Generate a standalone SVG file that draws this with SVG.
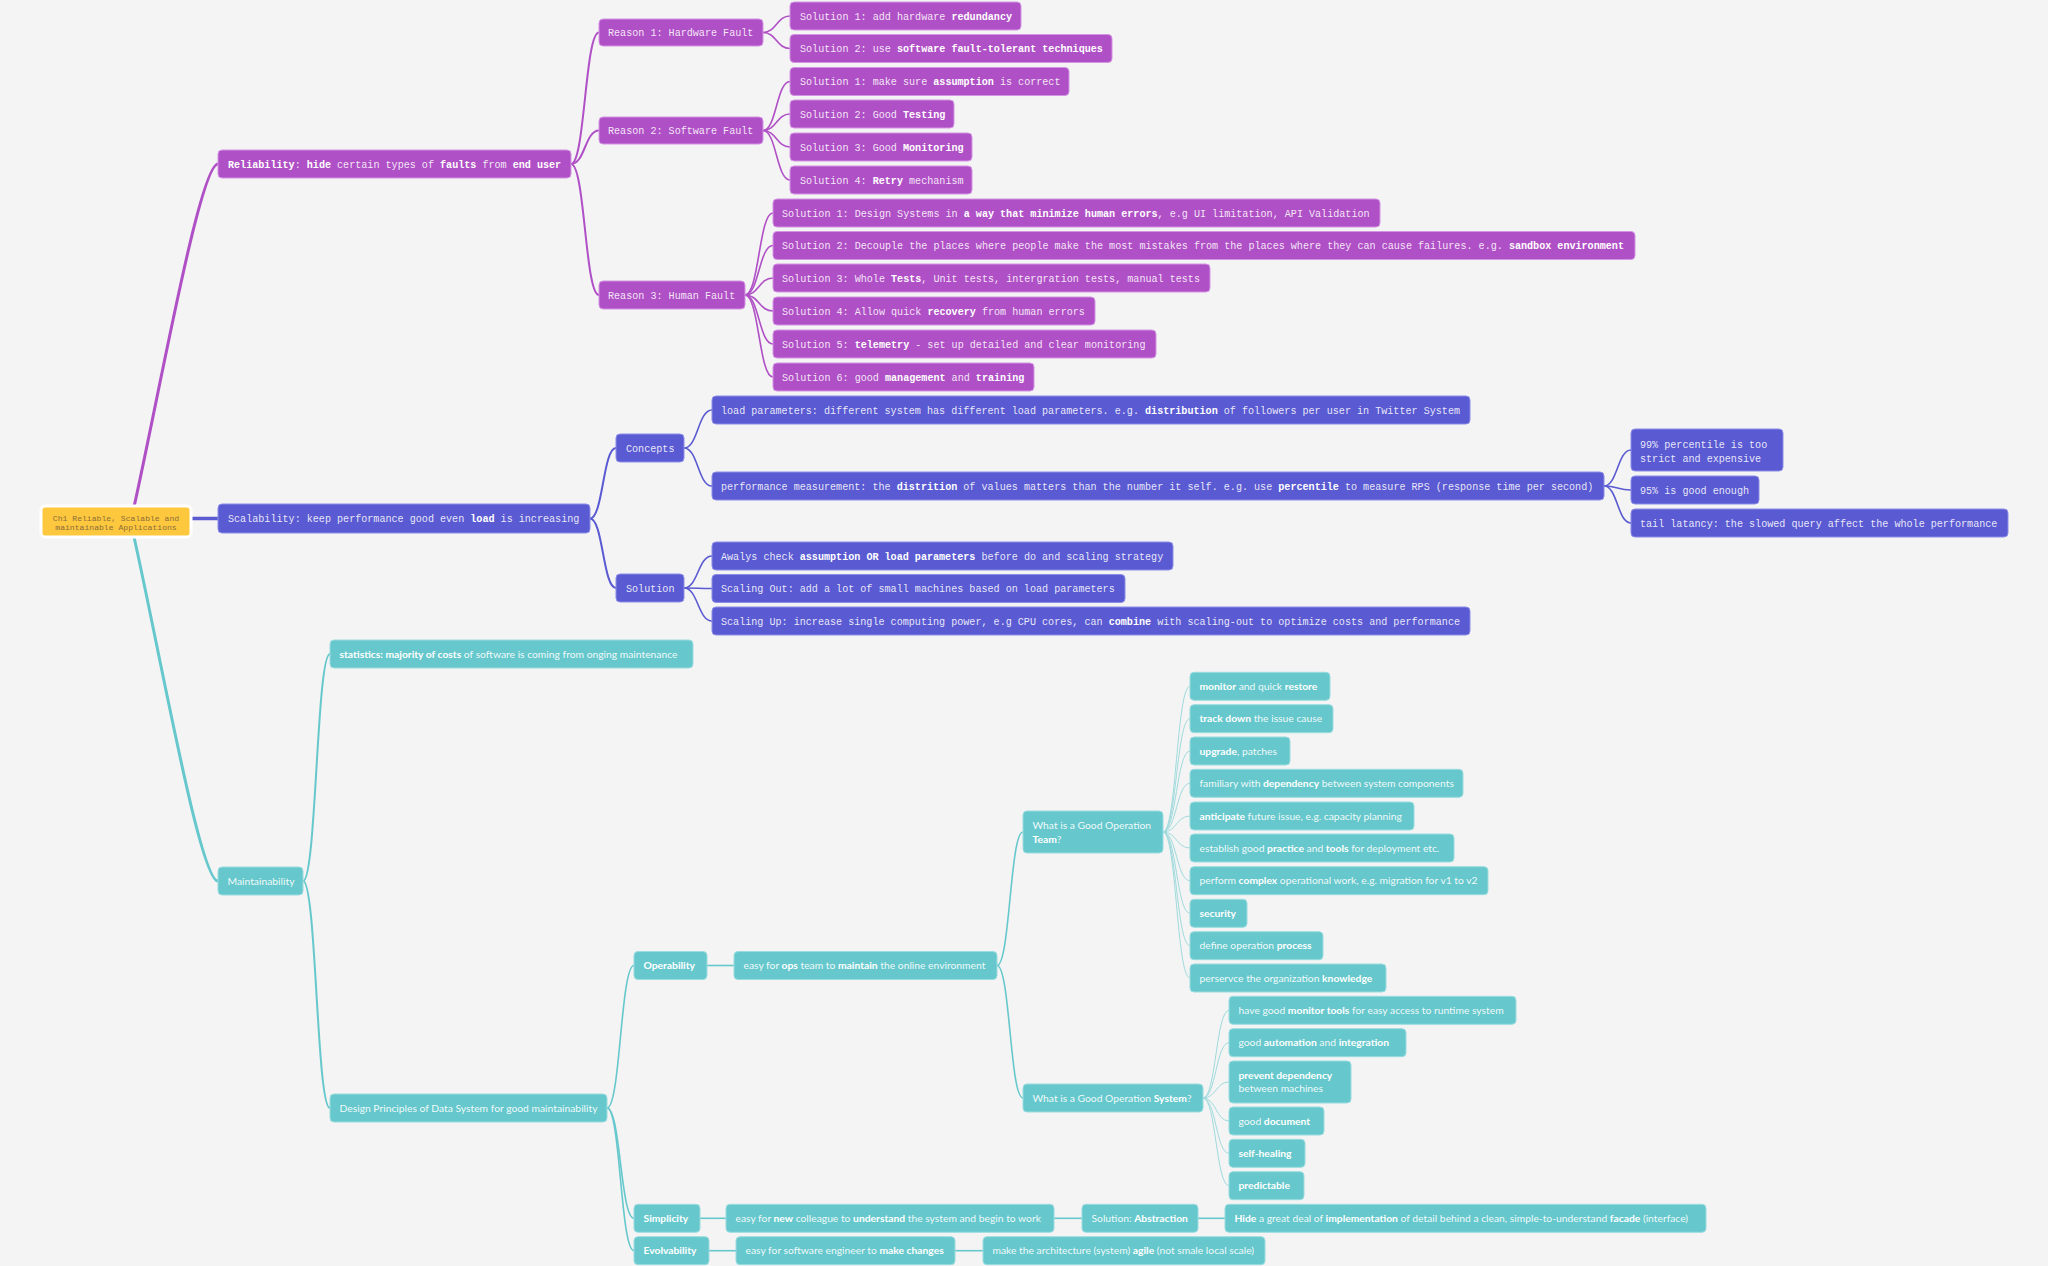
<svg xmlns="http://www.w3.org/2000/svg" width="2048" height="1266" viewBox="0 0 2048 1266">
<style>
.p{fill:#b050c6;stroke:#d394e3;stroke-width:1}
.b{fill:#5a5ad2;stroke:#8d8de8;stroke-width:1}
.t{fill:#66c8cc;stroke:#9adcdf;stroke-width:1}
.m{font-family:"Liberation Mono","DejaVu Sans Mono",monospace;font-size:10.1px;fill:#fff;fill-opacity:.88}
.s{font-family:Lato,"Open Sans",sans-serif;font-size:10.3px;fill:#fff;fill-opacity:.92}
.bd{font-weight:bold;fill-opacity:1}
.lp{fill:none;stroke:#b050c6}
.lb{fill:none;stroke:#5a5ad2}
.lt{fill:none;stroke:#66c8cc}
.lt2{fill:none;stroke:#9fdadd;stroke-width:1}
</style>
<rect width="2048" height="1266" fill="#f4f4f4"/>
<g id="connectors">
<path class="lp" stroke-width="3" d="M134 507 C160 390 200 164 218 164"/>
<path class="lt" stroke-width="3" d="M134 537 C160 653 200 881 218 881"/>
<path class="lb" stroke-width="3.5" d="M191 518.5 L218 518.5"/>
<g class="lp" stroke-width="2">
<path d="M571 164 C585 164 585 32.5 599 32.5"/>
<path d="M571 164 C585 164 585 130.5 599 130.5"/>
<path d="M571 164 C585 164 585 295 599 295"/>
</g>
<g class="lp" stroke-width="1.6">
<path d="M763 32.5 C776.5 32.5 776.5 16 790 16"/>
<path d="M763 32.5 C776.5 32.5 776.5 48.5 790 48.5"/>
<path d="M763 130.5 C776.5 130.5 776.5 81.5 790 81.5"/>
<path d="M763 130.5 C776.5 130.5 776.5 114 790 114"/>
<path d="M763 130.5 C776.5 130.5 776.5 147 790 147"/>
<path d="M763 130.5 C776.5 130.5 776.5 180 790 180"/>
<path d="M745 295 C759 295 759 213 773 213"/>
<path d="M745 295 C759 295 759 245.5 773 245.5"/>
<path d="M745 295 C759 295 759 278 773 278"/>
<path d="M745 295 C759 295 759 311 773 311"/>
<path d="M745 295 C759 295 759 344 773 344"/>
<path d="M745 295 C759 295 759 377 773 377"/>
</g>
<g class="lb" stroke-width="2">
<path d="M590 518.5 C603 518.5 603 448 616 448"/>
<path d="M590 518.5 C603 518.5 603 588 616 588"/>
</g>
<g class="lb" stroke-width="1.6">
<path d="M684 448 C698 448 698 410 712 410"/>
<path d="M684 448 C698 448 698 486 712 486"/>
<path d="M684 588 C698 588 698 556 712 556"/>
<path d="M684 588 C698 588 698 588.5 712 588.5"/>
<path d="M684 588 C698 588 698 621 712 621"/>
<path d="M1604 486 C1617.5 486 1617.5 450 1631 450"/>
<path d="M1604 486 C1617.5 486 1617.5 490 1631 490"/>
<path d="M1604 486 C1617.5 486 1617.5 523 1631 523"/>
</g>
<g class="lt" stroke-width="2">
<path d="M303 881 C316.5 881 316.5 654 330 654"/>
<path d="M303 881 C316.5 881 316.5 1108 330 1108"/>
</g>
<g class="lt" stroke-width="1.6">
<path d="M607 1108 C620.5 1108 620.5 965.5 634 965.5"/>
<path d="M607 1108 C620.5 1108 620.5 1218.3 634 1218.3"/>
<path d="M607 1108 C620.5 1108 620.5 1250.7 634 1250.7"/>
<path d="M707 965.5 L734 965.5"/>
<path d="M997 965.5 C1010 965.5 1010 832 1023 832"/>
<path d="M997 965.5 C1010 965.5 1010 1098 1023 1098"/>
<path d="M700 1218.3 L726 1218.3"/>
<path d="M1054 1218.3 L1082 1218.3"/>
<path d="M1198 1218.3 L1225 1218.3"/>
<path d="M709 1250.7 L736 1250.7"/>
<path d="M955 1250.7 L983 1250.7"/>
</g>
<g class="lt2">
<path d="M1163 832 C1176.5 832 1176.5 686.3 1190 686.3"/>
<path d="M1163 832 C1176.5 832 1176.5 718.7 1190 718.7"/>
<path d="M1163 832 C1176.5 832 1176.5 751 1190 751"/>
<path d="M1163 832 C1176.5 832 1176.5 783.3 1190 783.3"/>
<path d="M1163 832 C1176.5 832 1176.5 816 1190 816"/>
<path d="M1163 832 C1176.5 832 1176.5 848 1190 848"/>
<path d="M1163 832 C1176.5 832 1176.5 880.7 1190 880.7"/>
<path d="M1163 832 C1176.5 832 1176.5 913.3 1190 913.3"/>
<path d="M1163 832 C1176.5 832 1176.5 945.7 1190 945.7"/>
<path d="M1163 832 C1176.5 832 1176.5 978 1190 978"/>
<path d="M1203 1098 C1216 1098 1216 1010.3 1229 1010.3"/>
<path d="M1203 1098 C1216 1098 1216 1042.7 1229 1042.7"/>
<path d="M1203 1098 C1216 1098 1216 1082 1229 1082"/>
<path d="M1203 1098 C1216 1098 1216 1121 1229 1121"/>
<path d="M1203 1098 C1216 1098 1216 1153.3 1229 1153.3"/>
<path d="M1203 1098 C1216 1098 1216 1185.7 1229 1185.7"/>
</g>
</g>

<g id="root">
<rect x="41" y="506" width="150" height="31" rx="4" fill="#fec83e" stroke="#ffffff" stroke-width="3"/>
<text font-family="Liberation Mono,DejaVu Sans Mono,monospace" font-size="8.1" fill="#8a6d3a" text-anchor="middle"><tspan x="116" y="520.5">Ch1 Reliable, Scalable and</tspan><tspan x="116" y="530">maintainable Applications</tspan></text>
</g>

<g id="reliability"><rect class="p" x="218" y="150" width="353" height="28" rx="4"/><text class="m" x="228" y="167.5"><tspan class="bd">Reliability</tspan>: <tspan class="bd">hide</tspan> certain types of <tspan class="bd">faults</tspan> from <tspan class="bd">end user</tspan></text></g>
<g id="reason1"><rect class="p" x="599" y="19" width="164" height="27" rx="4"/><text class="m" x="608" y="36">Reason 1: Hardware Fault</text></g>
<g id="reason2"><rect class="p" x="599" y="117" width="164" height="27" rx="4"/><text class="m" x="608" y="134">Reason 2: Software Fault</text></g>
<g id="reason3"><rect class="p" x="599" y="281" width="146" height="28" rx="4"/><text class="m" x="608" y="298.5">Reason 3: Human Fault</text></g>
<g id="hw1"><rect class="p" x="790" y="2" width="231" height="28" rx="4"/><text class="m" x="800" y="19.5">Solution 1: add hardware <tspan class="bd">redundancy</tspan></text></g>
<g id="hw2"><rect class="p" x="790" y="34.5" width="322" height="28" rx="4"/><text class="m" x="800" y="52">Solution 2: use <tspan class="bd">software fault-tolerant techniques</tspan></text></g>
<g id="sw1"><rect class="p" x="790" y="67.5" width="279" height="28" rx="4"/><text class="m" x="800" y="85">Solution 1: make sure <tspan class="bd">assumption</tspan> is correct</text></g>
<g id="sw2"><rect class="p" x="790" y="100" width="164" height="28" rx="4"/><text class="m" x="800" y="117.5">Solution 2: Good <tspan class="bd">Testing</tspan></text></g>
<g id="sw3"><rect class="p" x="790" y="133" width="182" height="28" rx="4"/><text class="m" x="800" y="150.5">Solution 3: Good <tspan class="bd">Monitoring</tspan></text></g>
<g id="sw4"><rect class="p" x="790" y="166" width="182" height="28" rx="4"/><text class="m" x="800" y="183.5">Solution 4: <tspan class="bd">Retry</tspan> mechanism</text></g>
<g id="hf1"><rect class="p" x="773" y="199" width="607" height="28" rx="4"/><text class="m" x="782" y="216.5">Solution 1: Design Systems in <tspan class="bd">a way that minimize human errors</tspan>, e.g UI limitation, API Validation</text></g>
<g id="hf2"><rect class="p" x="773" y="231.5" width="862" height="28" rx="4"/><text class="m" x="782" y="249">Solution 2: Decouple the places where people make the most mistakes from the places where they can cause failures. e.g. <tspan class="bd">sandbox environment</tspan></text></g>
<g id="hf3"><rect class="p" x="773" y="264" width="437" height="28" rx="4"/><text class="m" x="782" y="281.5">Solution 3: Whole <tspan class="bd">Tests</tspan>, Unit tests, intergration tests, manual tests</text></g>
<g id="hf4"><rect class="p" x="773" y="297" width="322" height="28" rx="4"/><text class="m" x="782" y="314.5">Solution 4: Allow quick <tspan class="bd">recovery</tspan> from human errors</text></g>
<g id="hf5"><rect class="p" x="773" y="330" width="383" height="28" rx="4"/><text class="m" x="782" y="347.5">Solution 5: <tspan class="bd">telemetry</tspan> - set up detailed and clear monitoring</text></g>
<g id="hf6"><rect class="p" x="773" y="363" width="261" height="28" rx="4"/><text class="m" x="782" y="380.5">Solution 6: good <tspan class="bd">management</tspan> and <tspan class="bd">training</tspan></text></g>

<g id="scalability"><rect class="b" x="218" y="504" width="372" height="29" rx="4"/><text class="m" x="228" y="522">Scalability: keep performance good even <tspan class="bd">load</tspan> is increasing</text></g>
<g id="concepts"><rect class="b" x="616" y="434" width="68" height="28" rx="4"/><text class="m" x="626" y="451.5">Concepts</text></g>
<g id="solution"><rect class="b" x="616" y="574" width="68" height="28" rx="4"/><text class="m" x="626" y="591.5">Solution</text></g>
<g id="loadparams"><rect class="b" x="712" y="396" width="758" height="28" rx="4"/><text class="m" x="721" y="413.5">load parameters: different system has different load parameters. e.g. <tspan class="bd">distribution</tspan> of followers per user in Twitter System</text></g>
<g id="perf"><rect class="b" x="712" y="472" width="892" height="28" rx="4"/><text class="m" x="721" y="489.5">performance measurement: the <tspan class="bd">distrition</tspan> of values matters than the number it self. e.g. use <tspan class="bd">percentile</tspan> to measure RPS (response time per second)</text></g>
<g id="awalys"><rect class="b" x="712" y="542" width="461" height="28" rx="4"/><text class="m" x="721" y="559.5">Awalys check <tspan class="bd">assumption OR load parameters</tspan> before do and scaling strategy</text></g>
<g id="scaleout"><rect class="b" x="712" y="574.5" width="413" height="28" rx="4"/><text class="m" x="721" y="592">Scaling Out: add a lot of small machines based on load parameters</text></g>
<g id="scaleup"><rect class="b" x="712" y="607" width="758" height="28" rx="4"/><text class="m" x="721" y="624.5">Scaling Up: increase single computing power, e.g CPU cores, can <tspan class="bd">combine</tspan> with scaling-out to optimize costs and performance</text></g>
<g id="p99"><rect class="b" x="1631" y="429" width="152" height="42" rx="4"/><text class="m"><tspan x="1640" y="447.7">99% percentile is too</tspan><tspan x="1640" y="461.7">strict and expensive</tspan></text></g>
<g id="p95"><rect class="b" x="1631" y="476" width="128" height="28" rx="4"/><text class="m" x="1640" y="493.5">95% is good enough</text></g>
<g id="tail"><rect class="b" x="1631" y="509" width="377" height="28" rx="4"/><text class="m" x="1640" y="526.5">tail latancy: the slowed query affect the whole performance</text></g>

<g id="maintainability"><rect class="t" x="218" y="867" width="85" height="28" rx="4"/><text class="s" x="227.5" y="884.7">Maintainability</text></g>
<g id="statistics"><rect class="t" x="330" y="640" width="363" height="28" rx="4"/><text class="s" x="339.5" y="657.7"><tspan class="bd">statistics: majority of costs</tspan> of software is coming from onging maintenance</text></g>
<g id="design"><rect class="t" x="330" y="1094" width="277" height="28" rx="4"/><text class="s" x="339.5" y="1111.7">Design Principles of Data System for good maintainability</text></g>
<g id="operability"><rect class="t" x="634" y="951.5" width="73" height="28" rx="4"/><text class="s bd" x="643.5" y="969.2">Operability</text></g>
<g id="easyops"><rect class="t" x="734" y="951.5" width="263" height="28" rx="4"/><text class="s" x="743.5" y="969.2">easy for <tspan class="bd">ops</tspan> team to <tspan class="bd">maintain</tspan> the online environment</text></g>
<g id="team"><rect class="t" x="1023" y="811" width="140" height="42" rx="4"/><text class="s"><tspan x="1032.5" y="829.4">What is a Good Operation</tspan><tspan x="1032.5" y="843.4" class="bd">Team</tspan><tspan>?</tspan></text></g>
<g id="t1"><rect class="t" x="1190" y="672.3" width="140" height="28" rx="4"/><text class="s" x="1199.5" y="690"><tspan class="bd">monitor</tspan> and quick <tspan class="bd">restore</tspan></text></g>
<g id="t2"><rect class="t" x="1190" y="704.7" width="143" height="28" rx="4"/><text class="s" x="1199.5" y="722.4"><tspan class="bd">track down</tspan> the issue cause</text></g>
<g id="t3"><rect class="t" x="1190" y="737" width="100" height="28" rx="4"/><text class="s" x="1199.5" y="754.7"><tspan class="bd">upgrade</tspan>, patches</text></g>
<g id="t4"><rect class="t" x="1190" y="769.3" width="273" height="28" rx="4"/><text class="s" x="1199.5" y="787">familiary with <tspan class="bd">dependency</tspan> between system components</text></g>
<g id="t5"><rect class="t" x="1190" y="802" width="224" height="28" rx="4"/><text class="s" x="1199.5" y="819.7"><tspan class="bd">anticipate</tspan> future issue, e.g. capacity planning</text></g>
<g id="t6"><rect class="t" x="1190" y="834" width="264" height="28" rx="4"/><text class="s" x="1199.5" y="851.7">establish good <tspan class="bd">practice</tspan> and <tspan class="bd">tools</tspan> for deployment etc.</text></g>
<g id="t7"><rect class="t" x="1190" y="866.7" width="298" height="28" rx="4"/><text class="s" x="1199.5" y="884.4">perform <tspan class="bd">complex</tspan> operational work, e.g. migration for v1 to v2</text></g>
<g id="t8"><rect class="t" x="1190" y="899.3" width="57" height="28" rx="4"/><text class="s bd" x="1199.5" y="917">security</text></g>
<g id="t9"><rect class="t" x="1190" y="931.7" width="133" height="28" rx="4"/><text class="s" x="1199.5" y="949.4">define operation <tspan class="bd">process</tspan></text></g>
<g id="t10"><rect class="t" x="1190" y="964" width="196" height="28" rx="4"/><text class="s" x="1199.5" y="981.7">perservce the organization <tspan class="bd">knowledge</tspan></text></g>
<g id="system"><rect class="t" x="1023" y="1084" width="180" height="28" rx="4"/><text class="s" x="1032.5" y="1101.7">What is a Good Operation <tspan class="bd">System</tspan>?</text></g>
<g id="s1"><rect class="t" x="1229" y="996.3" width="287" height="28" rx="4"/><text class="s" x="1238.5" y="1014">have good <tspan class="bd">monitor tools</tspan> for easy access to runtime system</text></g>
<g id="s2"><rect class="t" x="1229" y="1028.7" width="177" height="28" rx="4"/><text class="s" x="1238.5" y="1046.4">good <tspan class="bd">automation</tspan> and <tspan class="bd">integration</tspan></text></g>
<g id="s3"><rect class="t" x="1229" y="1061" width="122" height="42" rx="4"/><text class="s"><tspan x="1238.5" y="1079.4" class="bd">prevent dependency</tspan><tspan x="1238.5" y="1092.4">between machines</tspan></text></g>
<g id="s4"><rect class="t" x="1229" y="1107" width="95" height="28" rx="4"/><text class="s" x="1238.5" y="1124.7">good <tspan class="bd">document</tspan></text></g>
<g id="s5"><rect class="t" x="1229" y="1139.3" width="76" height="28" rx="4"/><text class="s bd" x="1238.5" y="1157">self-healing</text></g>
<g id="s6"><rect class="t" x="1229" y="1171.7" width="75" height="28" rx="4"/><text class="s bd" x="1238.5" y="1189.4">predictable</text></g>
<g id="simplicity"><rect class="t" x="634" y="1204.3" width="66" height="28" rx="4"/><text class="s bd" x="643.5" y="1222">Simplicity</text></g>
<g id="easynew"><rect class="t" x="726" y="1204.3" width="328" height="28" rx="4"/><text class="s" x="735.5" y="1222">easy for <tspan class="bd">new</tspan> colleague to <tspan class="bd">understand</tspan> the system and begin to work</text></g>
<g id="abstraction"><rect class="t" x="1082" y="1204.3" width="116" height="28" rx="4"/><text class="s" x="1091.5" y="1222">Solution: <tspan class="bd">Abstraction</tspan></text></g>
<g id="hide"><rect class="t" x="1225" y="1204.3" width="481" height="28" rx="4"/><text class="s" x="1234.5" y="1222"><tspan class="bd">Hide</tspan> a great deal of <tspan class="bd">implementation</tspan> of detail behind a clean, simple-to-understand <tspan class="bd">facade</tspan> (interface)</text></g>
<g id="evolvability"><rect class="t" x="634" y="1236.7" width="75" height="28" rx="4"/><text class="s bd" x="643.5" y="1254.4">Evolvability</text></g>
<g id="easychange"><rect class="t" x="736" y="1236.7" width="219" height="28" rx="4"/><text class="s" x="745.5" y="1254.4">easy for software engineer to <tspan class="bd">make changes</tspan></text></g>
<g id="agile"><rect class="t" x="983" y="1236.7" width="282" height="28" rx="4"/><text class="s" x="992.5" y="1254.4">make the architecture (system) <tspan class="bd">agile</tspan> (not smale local scale)</text></g>
</svg>
